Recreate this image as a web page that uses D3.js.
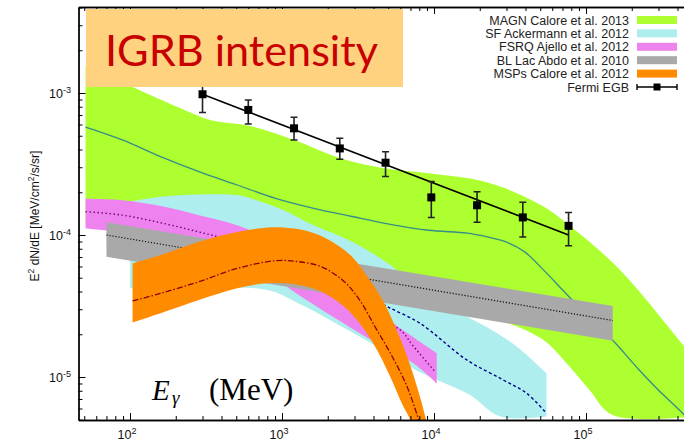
<!DOCTYPE html>
<html>
<head>
<meta charset="utf-8">
<script src="https://cdn.jsdelivr.net/npm/d3@7"></script>
<style>
  body { margin: 0; background: #fff; }
  svg { display: block; }
</style>
</head>
<body>
<script>
// ---- data: [energy MeV, E^2 dN/dE] ----
const magnUpper = [[51, 1.55e-3], [104, 1.10e-3], [213, 7.83e-4], [336, 6.46e-4], [604, 5.89e-4], [1205, 4.67e-4],
  [2427, 3.47e-4], [4820, 2.94e-4], [9226, 2.72e-4], [19280, 2.44e-4], [29440, 2.13e-4], [52480, 1.585e-4],
  [77090, 1.175e-4], [167500, 5.68e-5], [443600, 1.64e-5], [560000, 1.21e-5]];
const magnLower = [[51, 1.23e-4], [89, 1.08e-4], [159, 9.23e-5], [507, 7.83e-5], [1618, 5.98e-5], [5164, 4.33e-5],
  [16480, 2.96e-5], [23330, 2.52e-5], [29440, 2.42e-5], [52480, 1.82e-5], [74470, 1.25e-5], [105400, 8.1e-6],
  [149300, 5.4e-6], [560000, 5.3e-6]];
const magnLine = [[51, 5.75e-4], [89, 4.67e-4], [159, 3.56e-4], [284, 2.79e-4], [507, 2.25e-4], [906, 1.81e-4],
  [1618, 1.54e-4], [2891, 1.35e-4], [5164, 1.19e-4], [9226, 1.08e-4], [16480, 1.03e-4], [22030, 9.73e-5],
  [29440, 8.97e-5], [39260, 7.64e-5], [52480, 5.68e-5], [70150, 4.10e-5], [93760, 2.96e-5], [149300, 1.82e-5],
  [223900, 1.12e-5], [299200, 8.09e-6], [443600, 5.40e-6], [562300, 3.98e-6]];

const sfUpper = [[100, 1.72e-4], [159, 1.86e-4], [284, 1.93e-4], [507, 1.91e-4], [678, 1.76e-4], [1019, 1.50e-4],
  [1618, 1.17e-4], [2891, 8.97e-5], [5164, 6.15e-5], [7745, 4.33e-5], [12330, 3.13e-5], [22030, 2.26e-5],
  [34990, 1.64e-5], [55000, 1.06e-5]];
const sfLower = [[100, 4.21e-5], [284, 4.21e-5], [807, 4.10e-5], [1282, 3.30e-5], [2163, 2.45e-5], [3864, 1.73e-5],
  [6902, 1.18e-5], [10470, 9.53e-6], [17260, 7.46e-6], [27290, 5.26e-6], [55000, 5.26e-6]];
const sfLine = [[3981, 3.55e-5], [5140, 3.06e-5], [8090, 2.39e-5], [16410, 1.32e-5], [28580, 9.53e-6],
  [40740, 7.67e-6], [55000, 5.55e-6]];

const fsrqUpper = [[51, 1.80e-4], [89, 1.76e-4], [159, 1.60e-4], [284, 1.38e-4], [507, 1.17e-4], [1000, 8.5e-5],
  [1995, 5.01e-5], [3981, 3.02e-5], [5395, 2.39e-5], [7278, 1.91e-5], [10420, 1.47e-5]];
const fsrqLower = [[51, 1.11e-4], [89, 1.05e-4], [159, 9.73e-5], [284, 8.51e-5], [507, 7.03e-5], [906, 4.9e-5],
  [1282, 3.8e-5], [2163, 2.66e-5], [3864, 1.82e-5], [7310, 1.25e-5], [10420, 9.0e-6]];
const fsrqLine = [[51, 1.46e-4], [89, 1.38e-4], [159, 1.22e-4], [284, 1.05e-4], [507, 8.9e-5], [906, 6.9e-5],
  [1618, 4.8e-5], [2891, 3.24e-5], [6000, 2.14e-5], [7278, 1.66e-5], [10160, 1.09e-5]];

const blUpper = [[70, 1.23e-4], [150000, 3.16e-5]];
const blLower = [[70, 7.03e-5], [150000, 1.8e-5]];
const blLine = [[70, 1.0e-4], [150000, 2.5e-5]];

const mspUpper = [[104, 6.31e-5], [159, 7.23e-5], [284, 8.97e-5], [507, 1.05e-4], [807, 1.13e-4], [1019, 1.13e-4],
  [1442, 1.07e-4], [2042, 9.23e-5], [2891, 7.03e-5], [3648, 5.09e-5], [4592, 3.48e-5], [5794, 2.03e-5],
  [6902, 1.25e-5], [8204, 6.89e-6], [8810, 5.12e-6], [9333, 3.98e-6]];
const mspLower = [[104, 2.42e-5], [159, 2.81e-5], [284, 3.48e-5], [507, 4.21e-5], [807, 4.57e-5], [1282, 4.45e-5],
  [1816, 3.99e-5], [2570, 3.13e-5], [3243, 2.39e-5], [4093, 1.64e-5], [5164, 1.0e-5], [6138, 6.53e-6],
  [6902, 5.12e-6], [7244, 4.37e-6]];
const mspLine = [[104, 3.43e-5], [159, 3.88e-5], [284, 4.69e-5], [507, 5.82e-5], [906, 6.59e-5], [1282, 6.49e-5],
  [1816, 5.98e-5], [2570, 4.69e-5], [3243, 3.48e-5], [4093, 2.26e-5], [5164, 1.47e-5], [6516, 9.0e-6],
  [7745, 5.4e-6], [8128, 4.47e-6]];

// Fermi EGB points with error bars, and the power-law fit
const fermiE = [300, 600, 1200, 2400, 4800, 9600, 19200, 38400, 76800];
const fermiI = [9.8e-4, 7.6e-4, 5.64e-4, 4.07e-4, 3.23e-4, 1.84e-4, 1.62e-4, 1.33e-4, 1.16e-4];
const fermiLo = [7.3e-4, 6.05e-4, 4.67e-4, 3.41e-4, 2.58e-4, 1.33e-4, 1.23e-4, 9.7e-5, 8.4e-5];
const fermiHi = [1.2e-3, 8.93e-4, 6.74e-4, 4.8e-4, 3.86e-4, 2.38e-4, 2.02e-4, 1.70e-4, 1.44e-4];
const fermiFit = [[300, 9.8e-4], [76800, 1.0e-4]];

const legendLabels = ["MAGN Calore et al. 2013", "SF Ackermann et al. 2012", "FSRQ Ajello et al. 2012",
  "BL Lac Abdo et al. 2010", "MSPs Calore et al. 2012", "Fermi EGB"];
const legendColors = ["#adff2f", "#afeeee", "#ee82ee", "#a9a9a9", "#ff8c00"];

// ---- layout ----
const width = 684, height = 441;
const pL = 78.5, pR = 700, pT = 7, pB = 420;

const x = d3.scaleLog().domain([1e2, 1e5]).range([130, 586]);
const y = d3.scaleLog().domain([1e-5, 1e-3]).range([377, 93]);
const xa = x.copy().domain([x.invert(pL), x.invert(pR)]).range([pL, pR]);
const ya = y.copy().domain([y.invert(pB), y.invert(pT)]).range([pB, pT]);

const svg = d3.select("body").append("svg")
  .attr("width", width)
  .attr("height", height)
  .attr("viewBox", [0, 0, width, height])
  .style("font-family", "'Liberation Sans', Arial, Helvetica, sans-serif");

svg.append("clipPath").attr("id", "plot")
  .append("rect").attr("x", pL).attr("y", pT).attr("width", pR - pL).attr("height", pB - pT);

const line = d3.line().x(d => x(d[0])).y(d => y(d[1])).curve(d3.curveCatmullRom.alpha(0.5));
const straight = d3.line().x(d => x(d[0])).y(d => y(d[1]));

function band(upper, lower, gen) {
  return gen(upper) + "L" + gen(lower.slice().reverse()).slice(1) + "Z";
}

const plot = svg.append("g").attr("clip-path", "url(#plot)");

// MAGN
plot.append("path").attr("d", band(magnUpper, magnLower, line)).attr("fill", legendColors[0]);
plot.append("path").attr("d", line(magnLine)).attr("fill", "none").attr("stroke", "#358c8a").attr("stroke-width", 1.3);
// SF
plot.append("path").attr("d", band(sfUpper, sfLower, line)).attr("fill", legendColors[1]);
plot.append("path").attr("d", line(sfLine)).attr("fill", "none").attr("stroke", "#00008b")
  .attr("stroke-width", 1.4).attr("stroke-dasharray", "3,2.5");
// FSRQ
plot.append("path").attr("d", band(fsrqUpper, fsrqLower, line)).attr("fill", legendColors[2]);
plot.append("path").attr("d", line(fsrqLine)).attr("fill", "none").attr("stroke", "#800080")
  .attr("stroke-width", 1.4).attr("stroke-dasharray", "1.5,2.5");
// BL Lac
plot.append("path").attr("d", band(blUpper, blLower, straight)).attr("fill", legendColors[3]);
plot.append("path").attr("d", straight(blLine)).attr("fill", "none").attr("stroke", "#111")
  .attr("stroke-width", 1.2).attr("stroke-dasharray", "1.2,1.8");
// MSPs
plot.append("path").attr("d", band(mspUpper, mspLower, line)).attr("fill", legendColors[4]);
plot.append("path").attr("d", line(mspLine)).attr("fill", "none").attr("stroke", "#8b0000")
  .attr("stroke-width", 1.3).attr("stroke-dasharray", "6,2,1.5,2");

// Fermi EGB
plot.append("path").attr("d", straight(fermiFit)).attr("fill", "none").attr("stroke", "#000").attr("stroke-width", 1.6);
const pts = plot.append("g").selectAll("g").data(fermiE).join("g");
pts.append("line")
  .attr("x1", d => x(d)).attr("x2", d => x(d))
  .attr("y1", (d, i) => y(fermiHi[i])).attr("y2", (d, i) => y(fermiLo[i]))
  .attr("stroke", "#222").attr("stroke-width", 1.6);
pts.append("path")
  .attr("d", (d, i) => `M${x(d) - 3.5},${y(fermiHi[i])}h7M${x(d) - 3.5},${y(fermiLo[i])}h7`)
  .attr("stroke", "#222").attr("stroke-width", 1.5);
pts.append("rect")
  .attr("x", d => x(d) - 4).attr("y", (d, i) => y(fermiI[i]) - 4)
  .attr("width", 8).attr("height", 8).attr("fill", "#000");

// ---- axes ----
const isPow = d => Math.abs(Math.log10(d) - Math.round(Math.log10(d))) < 1e-9;
const xt = xa.ticks();
const xMajor = xt.filter(isPow);
const xMinor = xt.filter(d => !isPow(d));
const yt = ya.ticks();
const yMajor = yt.filter(isPow);
const yMinor = yt.filter(d => !isPow(d));

function styleAxis(g) {
  g.selectAll("line").attr("stroke", "#000").attr("stroke-width", 1);
  g.select(".domain").attr("stroke", "#000").attr("stroke-width", 1.3);
}

svg.append("g").attr("transform", `translate(0,${pB})`)
  .call(d3.axisBottom(xa).tickValues(xMinor).tickSize(-4).tickSizeOuter(0).tickFormat(""))
  .call(styleAxis);
svg.append("g").attr("transform", `translate(0,${pB})`)
  .call(d3.axisBottom(xa).tickValues(xMajor).tickSize(-7).tickSizeOuter(0).tickFormat(""))
  .call(styleAxis);
svg.append("g").attr("transform", `translate(0,${pT})`)
  .call(d3.axisTop(xa).tickValues(xMinor).tickSize(-4).tickSizeOuter(0).tickFormat(""))
  .call(styleAxis);
svg.append("g").attr("transform", `translate(0,${pT})`)
  .call(d3.axisTop(xa).tickValues(xMajor).tickSize(-7).tickSizeOuter(0).tickFormat(""))
  .call(styleAxis);
svg.append("g").attr("transform", `translate(${pL},0)`)
  .call(d3.axisLeft(ya).tickValues(yMinor).tickSize(-4).tickSizeOuter(0).tickFormat(""))
  .call(styleAxis);
svg.append("g").attr("transform", `translate(${pL},0)`)
  .call(d3.axisLeft(ya).tickValues(yMajor).tickSize(-7).tickSizeOuter(0).tickFormat(""))
  .call(styleAxis);

// tick labels 10^n
svg.append("g").selectAll("text").data(xMajor.filter(d => xa(d) < width - 10)).join("text")
  .attr("x", d => xa(d) - 3).attr("y", 439).attr("text-anchor", "middle")
  .attr("font-size", 12.5).attr("fill", "#111")
  .each(function (d) {
    const t = d3.select(this);
    t.append("tspan").text("10");
    t.append("tspan").attr("dy", -5).attr("font-size", 9).text(Math.round(Math.log10(d)));
  });
svg.append("g").selectAll("text").data(yMajor).join("text")
  .attr("x", 71).attr("y", d => ya(d) + 4.5).attr("text-anchor", "end")
  .attr("font-size", 12.5).attr("fill", "#111")
  .each(function (d) {
    const t = d3.select(this);
    t.append("tspan").text("10");
    t.append("tspan").attr("dy", -5).attr("font-size", 9).text(Math.round(Math.log10(d)));
  });

// y axis title
const yl = svg.append("text")
  .attr("transform", "translate(39,216) rotate(-90)")
  .attr("text-anchor", "middle").attr("font-size", 12).attr("fill", "#111");
yl.append("tspan").text("E");
yl.append("tspan").attr("dy", -5).attr("font-size", 8.5).text("2");
yl.append("tspan").attr("dy", 5).text(" dN/dE [MeV/cm");
yl.append("tspan").attr("dy", -5).attr("font-size", 8.5).text("2");
yl.append("tspan").attr("dy", 5).text("/s/sr]");

// x axis title (inside the plot)
const xl = svg.append("g").attr("font-family", "'Liberation Serif', 'DejaVu Serif', serif").attr("fill", "#000");
xl.append("text").attr("x", 152).attr("y", 400).attr("font-size", 29).attr("font-style", "italic").text("E");
xl.append("text").attr("x", 172).attr("y", 404).attr("font-size", 19).attr("font-style", "italic").text("γ");
xl.append("text").attr("x", 209).attr("y", 400).attr("font-size", 31).text("(MeV)");

// ---- legend ----
const leg = svg.append("g");
const rowY = legendLabels.map((d, i) => 20 + i * 13.4);
leg.selectAll("text").data(legendLabels).join("text")
  .attr("x", 629).attr("y", (d, i) => rowY[i] + 4.5).attr("text-anchor", "end")
  .attr("font-size", 12.5).attr("fill", "#222").text(d => d);
leg.selectAll("rect.sw").data(legendColors).join("rect").attr("class", "sw")
  .attr("x", 637).attr("y", (d, i) => rowY[i] - 4).attr("width", 40).attr("height", 8).attr("fill", d => d);
const fy = rowY[5];
leg.append("path").attr("d", `M637,${fy}H677M637,${fy - 3}v6M677,${fy - 3}v6`)
  .attr("stroke", "#000").attr("stroke-width", 1.4).attr("fill", "none");
leg.append("rect").attr("x", 653.5).attr("y", fy - 3.5).attr("width", 7).attr("height", 7).attr("fill", "#000");

// ---- title box ----
svg.append("rect").attr("x", 86).attr("y", 9).attr("width", 317).attr("height", 78).attr("fill", "#ffd27f");
svg.append("text").attr("x", 105).attr("y", 66)
  .attr("font-family", "Lato, 'Open Sans', sans-serif").attr("font-size", 43).attr("fill", "#c80000")
  .attr("textLength", 273).attr("lengthAdjust", "spacingAndGlyphs").text("IGRB intensity");
</script>
</body>
</html>
